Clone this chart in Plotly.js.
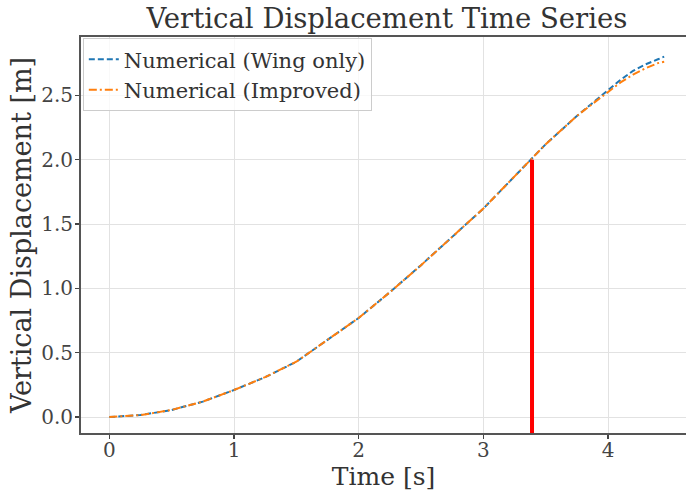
<!DOCTYPE html>
<html>
<head>
<meta charset="utf-8">
<script src="https://cdn.plot.ly/plotly-3.0.1.min.js"></script>
<style>html,body{margin:0;padding:0;background:#fff;}#chart{width:686px;height:491px;}</style>
</head>
<body>
<div id="chart"></div>
<script>
// Data
const timeS = [0, 0.25, 0.5, 0.75, 1.0, 1.25, 1.5, 1.75, 2.0, 2.25, 2.5, 2.75, 3.0, 3.25, 3.5, 3.75, 4.0, 4.1, 4.2, 4.3, 4.4, 4.45];
const wingOnly = [0, 0.015, 0.055, 0.12, 0.21, 0.31, 0.43, 0.60, 0.77, 0.97, 1.18, 1.40, 1.62, 1.87, 2.12, 2.34, 2.54, 2.62, 2.69, 2.74, 2.78, 2.80];
const improved = [0, 0.015, 0.055, 0.12, 0.21, 0.31, 0.43, 0.60, 0.77, 0.97, 1.18, 1.40, 1.62, 1.87, 2.12, 2.34, 2.53, 2.60, 2.66, 2.71, 2.75, 2.76];
const seriesNames = ["Numerical (Wing only)", "Numerical (Improved)"];
const markerTime = [3.39, 3.39];
const markerDisp = [-0.124, 2.0];
const xTicks = [0, 1, 2, 3, 4];
const yTicks = [0.0, 0.5, 1.0, 1.5, 2.0, 2.5];
const yTickLabels = ["0.0", "0.5", "1.0", "1.5", "2.0", "2.5"];

const FONT = "DejaVu Serif, Liberation Serif, serif";

const traces = [
  {x: timeS, y: wingOnly, name: seriesNames[0], mode: "lines",
   line: {color: "#1f77b4", width: 2, dash: "6px,3px"}},
  {x: timeS, y: improved, name: seriesNames[1], mode: "lines",
   line: {color: "#ff7f0e", width: 2, dash: "8px,3px,2px,3px"}},
  {x: markerTime, y: markerDisp, mode: "lines", showlegend: false, hoverinfo: "skip",
   line: {color: "#ff0000", width: 4}, cliponaxis: false}
];

const layout = {
  width: 686, height: 491,
  margin: {l: 81, r: 0, t: 37, b: 58},
  paper_bgcolor: "#fff", plot_bgcolor: "#fff",
  font: {family: FONT, color: "#333"},
  title: {text: "Vertical Displacement Time Series", font: {family: FONT, size: 27.5, color: "#333"},
          x: 0.564, xref: "container", xanchor: "center", y: 0.963, yref: "container", yanchor: "middle"},
  xaxis: {
    range: [-0.227, 4.625], tickvals: xTicks, ticktext: xTicks.map(String),
    showgrid: true, gridcolor: "#e2e2e2", gridwidth: 1, zeroline: false,
    showline: true, linecolor: "#555", linewidth: 2, mirror: true,
    ticks: "outside", ticklen: 4, tickwidth: 1.5, tickcolor: "#444",
    tickfont: {family: FONT, size: 20, color: "#444"}, ticklabelstandoff: -6,
    title: {text: "Time [s]", font: {family: FONT, size: 25, color: "#333"}, standoff: 4},
    automargin: false
  },
  yaxis: {
    range: [-0.124, 2.953], tickvals: yTicks, ticktext: yTickLabels,
    showgrid: true, gridcolor: "#e2e2e2", gridwidth: 1, zeroline: false,
    showline: true, linecolor: "#555", linewidth: 2, mirror: false,
    ticks: "outside", ticklen: 4, tickwidth: 1.5, tickcolor: "#444",
    tickfont: {family: FONT, size: 20, color: "#444"}, ticklabelstandoff: -2,
    title: {text: "Vertical Displacement [m]", font: {family: FONT, size: 27, color: "#333"}, standoff: 2},
    automargin: false
  },
  legend: {
    x: 0.003, y: 0.997, xanchor: "left", yanchor: "top",
    bgcolor: "rgba(255,255,255,0.8)", bordercolor: "#cccccc", borderwidth: 1,
    font: {family: FONT, size: 21, color: "#333"},
    itemwidth: 30, tracegroupgap: 0
  },
  showlegend: true
};

Plotly.newPlot("chart", traces, layout, {staticPlot: true, displayModeBar: false});
</script>
</body>
</html>
